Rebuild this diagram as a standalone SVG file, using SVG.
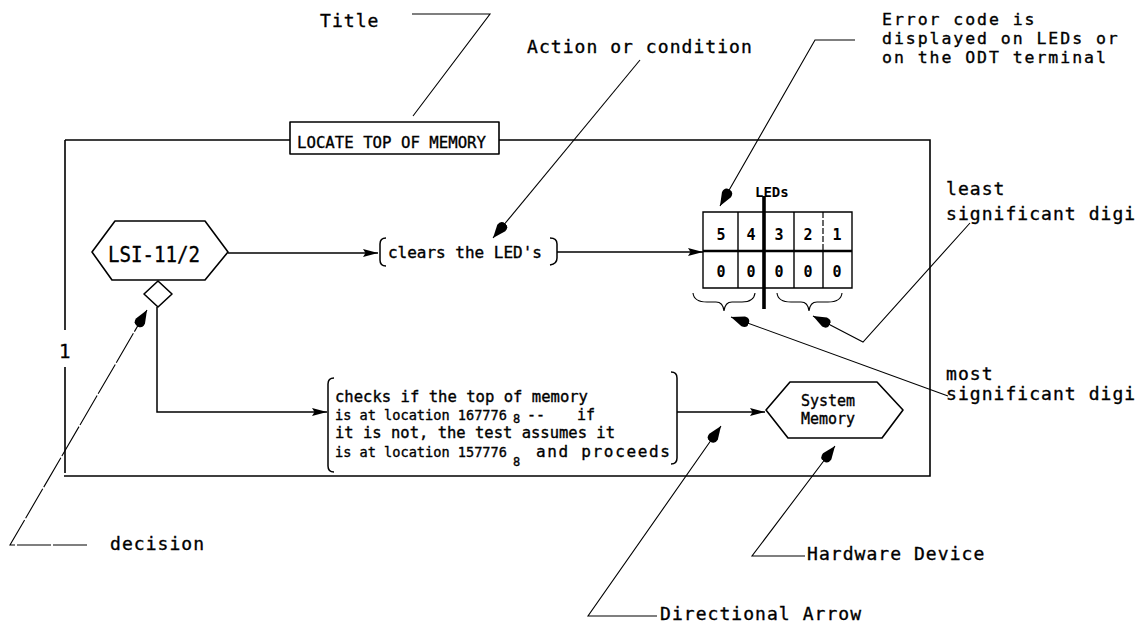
<svg xmlns="http://www.w3.org/2000/svg" width="1146" height="623" viewBox="0 0 1146 623">
  <style>
    text { font-family: "DejaVu Sans Mono", "Liberation Mono", monospace; fill: #000; stroke: #000; stroke-width: 0.35px; }
    .note { font-size: 18px; letter-spacing: 1.05px; }
    .note3 { font-size: 16.5px; letter-spacing: 1.95px; }
    .box { font-size: 15px; }
    .addr { font-size: 13.6px; }
    .sub { font-size: 12px; }
    .digit { font-size: 15px; font-weight: bold; text-anchor: middle; stroke-width: 0; }
    .frame { fill: none; stroke: #000; stroke-width: 1.6; }
    .shape { fill: #fff; stroke: #000; stroke-width: 1.6; stroke-linejoin: round; }
    .wire { fill: none; stroke: #000; stroke-width: 1.5; }
    .lead { fill: none; stroke: #000; stroke-width: 1.1; }
  </style>
  <defs>
    <marker id="ah" markerWidth="15" markerHeight="9" refX="15" refY="4.5" orient="auto" markerUnits="userSpaceOnUse">
      <path d="M0,0.5 L15,4.5 L0,8.5 L2.5,4.5 z" fill="#000"/>
    </marker>
    <marker id="lh" markerWidth="19" markerHeight="12" refX="19" refY="6" orient="auto" markerUnits="userSpaceOnUse">
      <path d="M0,6 Q0,0.5 6,0.8 L19,6 L6,11.2 Q0,11.5 0,6 z" fill="#000"/>
    </marker>
  </defs>

  <rect width="1146" height="623" fill="#fff"/>

  <!-- outer frame of the flow block -->
  <g id="frame">
    <path class="frame" d="M65,140 H290 M499,140 H930 V476 H64"/>
    <path class="frame" d="M65,140 V330 M65,367 V473"/>
    <text x="59" y="358" style="font-size:19px">1</text>
  </g>

  <!-- title box -->
  <g id="title">
    <rect class="shape" x="290" y="122" width="209" height="32"/>
    <text x="297" y="148" style="font-size:16px" textLength="189" lengthAdjust="spacingAndGlyphs">LOCATE TOP OF MEMORY</text>
  </g>

  <!-- processor hexagon -->
  <g id="lsi">
    <path class="shape" d="M92,252 L115,221 H205 L228,252 L205,280 H112 Z"/>
    <text x="108" y="262" style="font-size:21px" textLength="92" lengthAdjust="spacingAndGlyphs">LSI-11/2</text>
  </g>

  <!-- decision diamond -->
  <g id="decision">
    <path class="shape" d="M158,281 L172,294 L158,307 L144,294 Z"/>
  </g>

  <!-- action: clears the LEDs -->
  <g id="clears">
    <path class="wire" d="M386,238 Q380,238 380,244 V260 Q380,266 386,266"/>
    <path class="wire" d="M550,238 Q557,238 557,244 V258 Q557,264 550,265"/>
    <text class="box" x="388" y="258" textLength="154" lengthAdjust="spacingAndGlyphs">clears the LED's</text>
  </g>

  <!-- action: memory size check (octal addresses carry a subscript 8) -->
  <g id="checks">
    <path class="wire" d="M334,378 Q328,378 328,384 V466 Q328,472 334,472"/>
    <path class="wire" d="M671,372 Q677,372 677,378 V458 Q677,464 671,464"/>
    <text class="box" x="335" y="402" textLength="253" lengthAdjust="spacingAndGlyphs">checks if the top of memory</text>
    <text class="box addr" x="335" y="420">is at location 167776</text>
    <text class="sub" x="513" y="423">8</text>
    <text class="box" x="527" y="420">--</text>
    <text class="box" x="577" y="420">if</text>
    <text class="box" x="335" y="438" textLength="280" lengthAdjust="spacingAndGlyphs">it is not, the test assumes it</text>
    <text class="box addr" x="335" y="457">is at location 157776</text>
    <text class="sub" x="513" y="466">8</text>
    <text class="box" x="536" y="457" style="font-size:16px" textLength="134" lengthAdjust="spacing">and proceeds</text>
  </g>

  <!-- LED display -->
  <g id="leds">
    <path class="frame" d="M703,212 H852 V288 H703 Z" style="stroke-width:1.4"/>
    <path class="frame" d="M738,212 V288 M794,212 V288 M823,251 V288" style="stroke-width:1.4"/>
    <path class="frame" d="M823,212 V251" style="stroke-width:1.2;stroke-dasharray:6 2"/>
    <path class="frame" d="M703,251 H852" style="stroke-width:2.6"/>
    <path class="frame" d="M764,196 V309" style="stroke-width:3.6"/>
    <text x="755" y="197" style="font-size:14px;font-weight:bold;stroke-width:0">LEDs</text>
    <text class="digit" x="721" y="240">5</text>
    <text class="digit" x="751" y="240">4</text>
    <text class="digit" x="779" y="240">3</text>
    <text class="digit" x="808" y="240">2</text>
    <text class="digit" x="837" y="240">1</text>
    <text class="digit" x="721" y="277">0</text>
    <text class="digit" x="751" y="277">0</text>
    <text class="digit" x="779" y="277">0</text>
    <text class="digit" x="808" y="277">0</text>
    <text class="digit" x="837" y="277">0</text>
    <path class="lead" d="M693,293 Q694,302 707,302 H716 Q723,302 724,311 Q725,302 732,302 H742 Q754,302 755,293"/>
    <path class="lead" d="M777,293 Q778,302 791,302 H801 Q808,302 809,311 Q810,302 817,302 H828 Q841,302 842,293"/>
  </g>

  <!-- hardware device -->
  <g id="sysmem">
    <path class="shape" d="M766,410 L790,382 H877 L903,410 L882,438 H788 Z"/>
    <text x="828" y="406" style="font-size:15px;text-anchor:middle">System</text>
    <text x="828" y="424" style="font-size:15px;text-anchor:middle">Memory</text>
  </g>

  <!-- flow connectors -->
  <g id="connectors">
    <path class="wire" d="M228,253 H378" marker-end="url(#ah)"/>
    <path class="wire" d="M557,252 H703" marker-end="url(#ah)"/>
    <path class="wire" d="M157,307 V412 H327" marker-end="url(#ah)"/>
    <path class="wire" d="M677,412 H765" marker-end="url(#ah)"/>
  </g>

  <!-- explanatory labels and leaders -->
  <g id="legend">
    <text class="note" x="320" y="27">Title</text>
    <path class="lead" d="M412,14 H490 L413,116"/>

    <text class="note" x="527" y="53">Action or condition</text>
    <path class="lead" d="M640,60 L493,238" marker-end="url(#lh)"/>

    <text class="note3" x="882" y="25">Error code is</text>
    <text class="note3" x="882" y="44">displayed on LEDs or</text>
    <text class="note3" x="882" y="63">on the ODT terminal</text>
    <path class="lead" d="M855,40 H815 L720,206" marker-end="url(#lh)"/>

    <text class="note" x="946" y="195">least</text>
    <text class="note" x="946" y="220">significant digi</text>
    <path class="lead" d="M970,223 L863,342 L813,316" marker-end="url(#lh)"/>

    <text class="note" x="946" y="380">most</text>
    <text class="note" x="946" y="400">significant digi</text>
    <path class="lead" d="M948,396 L731,317" marker-end="url(#lh)"/>

    <text class="note" x="110" y="550">decision</text>
    <path class="lead" d="M87,545 H10 L147,310" style="stroke-dasharray:34 2" marker-end="url(#lh)"/>

    <text class="note" x="660" y="620">Directional Arrow</text>
    <path class="lead" d="M657,616 H588 L721,426" marker-end="url(#lh)"/>

    <text class="note" x="807" y="560">Hardware Device</text>
    <path class="lead" d="M805,556 H752 L835,446" marker-end="url(#lh)"/>
  </g>
</svg>
